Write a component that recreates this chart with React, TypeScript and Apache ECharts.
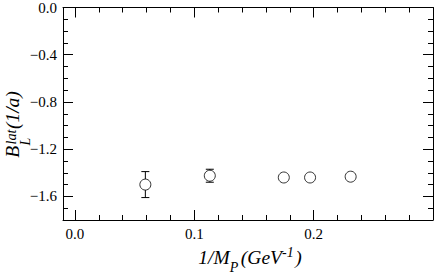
import React, { useEffect, useRef } from "react";
import * as echarts from "echarts";

// Data
const xVals = [0.059, 0.113, 0.175, 0.197, 0.231];
const yVals = [-1.5, -1.425, -1.44, -1.44, -1.433];
const yErr = [0.11, 0.055, 0.01, 0.01, 0.01];

// Axis ticks
const xMajor = [0, 0.1, 0.2];
const yMajor = [0, -0.4, -0.8, -1.2, -1.6];
const xRange = [-0.01, 0.3];
const yRange = [-1.8, 0];
const xMinorStep = 0.02;
const yMinorStep = 0.1;

const FONT = "Liberation Serif, serif";
const SYMBOL = 11;

function steps(from: number, to: number, step: number): number[] {
  const out: number[] = [];
  const n = Math.round((to - from) / step);
  for (let i = 0; i <= n; i++) out.push(Math.round((from + i * step) * 1000) / 1000);
  return out;
}

export default function App() {
  const ref = useRef<HTMLDivElement>(null);
  useEffect(() => {
    const chart = echarts.init(ref.current!, null, { renderer: "svg" });

    const xMinor = steps(0, 0.28, xMinorStep);
    const yMinor = steps(-1.7, -0.1, yMinorStep);

    const ctx = document.createElement("canvas").getContext("2d")!;
    const mw = (t: string, fs: number) => {
      ctx.font = `italic ${fs}px ${FONT}`;
      return ctx.measureText(t).width;
    };
    const C = 0.3375; // central baseline offset (em)
    const mkText = (t: string, fs: number, x: number, baseline: number) => ({
      type: "text",
      x,
      y: baseline - C * fs,
      style: {
        text: t,
        fontFamily: FONT,
        fontStyle: "italic",
        fontSize: fs,
        fill: "#000",
        align: "left",
        verticalAlign: "middle",
      },
    });

    // X title: 1/M_P (GeV^-1)
    const fsM = 19.5;
    const fsS = 14;
    const xp = [
      { t: "1/M", fs: fsM, dy: 0, gap: 0 },
      { t: "P", fs: fsS, dy: 8, gap: 2.5 },
      { t: "(GeV", fs: fsM, dy: 0, gap: 0 },
      { t: "-1", fs: fsS, dy: -7, gap: 1.5 },
      { t: ")", fs: fsM, dy: 0, gap: 0 },
    ];
    const xTotal = xp.reduce((s, p) => s + mw(p.t, p.fs) + p.gap, 0);
    let cx = 250 - xTotal / 2;
    const xBase = 264;
    const xTitle = xp.map((p) => {
      const el = mkText(p.t, p.fs, cx, xBase + p.dy);
      cx += mw(p.t, p.fs) + p.gap;
      return el;
    });

    // Y title: B_L^lat (1/a), rotated
    const wB = mw("B", fsM);
    const wL = mw("L", fsS);
    const wLat = mw("lat", fsS);
    const wRest = mw("(1/a)", fsM);
    const yTotal = wB + 1 + Math.max(wL, wLat) + 1 + wRest;
    const yTitle = {
      type: "group",
      x: 19.5,
      y: 124.5 + yTotal / 2,
      rotation: Math.PI / 2,
      children: [
        mkText("B", fsM, 0, 0),
        mkText("L", fsS, wB + 0.5, 11),
        mkText("lat", fsS, wB + 1.5, -3),
        mkText("(1/a)", fsM, wB + 2 + Math.max(wL, wLat), 0),
      ],
    };

    const fmt = (v: number) => {
      const s = Math.abs(v).toFixed(1);
      return v < -1e-9 ? "\u2212" + s : s;
    };

    const lineStyle = { color: "#000", width: 1 };
    const labelStyle = { color: "#000", fontSize: 15, fontFamily: FONT };

    const mkX = (pos: string, major: boolean, labels: boolean) => ({
      type: "value",
      position: pos,
      min: xRange[0],
      max: xRange[1],
      axisLine: { show: major, onZero: false, lineStyle },
      splitLine: { show: false },
      axisTick: {
        show: true,
        inside: true,
        length: major ? 10 : 5,
        customValues: major ? xMajor : xMinor,
        lineStyle,
      },
      axisLabel: {
        show: labels,
        customValues: xMajor,
        formatter: fmt,
        margin: 6,
        ...labelStyle,
      },
    });
    const mkY = (pos: string, major: boolean, labels: boolean) => ({
      type: "value",
      position: pos,
      min: yRange[0],
      max: yRange[1],
      axisLine: { show: major, onZero: false, lineStyle },
      splitLine: { show: false },
      axisTick: {
        show: true,
        inside: true,
        length: major ? 10 : 5,
        customValues: major ? yMajor : yMinor,
        lineStyle,
      },
      axisLabel: {
        show: labels,
        customValues: yMajor,
        formatter: fmt,
        margin: 6,
        ...labelStyle,
      },
    });

    const data = xVals.map((x, i) => [x, yVals[i], yErr[i]]);

    chart.setOption({
      animation: false,
      grid: { left: 63, right: 3, top: 7, bottom: 60 },
      xAxis: [
        mkX("bottom", true, true),
        mkX("bottom", false, false),
        mkX("top", true, false),
        mkX("top", false, false),
      ],
      yAxis: [
        mkY("left", true, true),
        mkY("left", false, false),
        mkY("right", true, false),
        mkY("right", false, false),
      ],
      series: [
        {
          type: "custom",
          xAxisIndex: 0,
          yAxisIndex: 0,
          z: 1,
          data,
          renderItem: (params: any, api: any) => {
            const x = api.value(0);
            const y = api.value(1);
            const e = api.value(2);
            const c = api.coord([x, y]);
            const top = api.coord([x, y + e]);
            const bot = api.coord([x, y - e]);
            const r = SYMBOL / 2;
            const hw = 4;
            const st = { stroke: "#000", lineWidth: 1, fill: "none" };
            const children: any[] = [];
            if (c[1] - top[1] > r + 0.5) {
              children.push(
                { type: "line", shape: { x1: c[0], y1: top[1], x2: c[0], y2: c[1] - r }, style: st },
                { type: "line", shape: { x1: c[0], y1: c[1] + r, x2: c[0], y2: bot[1] }, style: st }
              );
            }
            if (c[1] - top[1] > r - 1) {
              children.push(
                { type: "line", shape: { x1: c[0] - hw, y1: top[1], x2: c[0] + hw, y2: top[1] }, style: st },
                { type: "line", shape: { x1: c[0] - hw, y1: bot[1], x2: c[0] + hw, y2: bot[1] }, style: st }
              );
            }
            return { type: "group", children };
          },
        },
        {
          type: "scatter",
          xAxisIndex: 0,
          yAxisIndex: 0,
          z: 3,
          symbol: "circle",
          symbolSize: SYMBOL,
          itemStyle: { color: "#fff", borderColor: "#000", borderWidth: 1 },
          data: xVals.map((x, i) => [x, yVals[i]]),
        },
      ],
      graphic: [...xTitle, yTitle],
    });
    return () => chart.dispose();
  }, []);
  return (
    <div
      ref={ref}
      style={{ position: "absolute", left: 0, top: 0, width: 436, height: 280 }}
    />
  );
}
